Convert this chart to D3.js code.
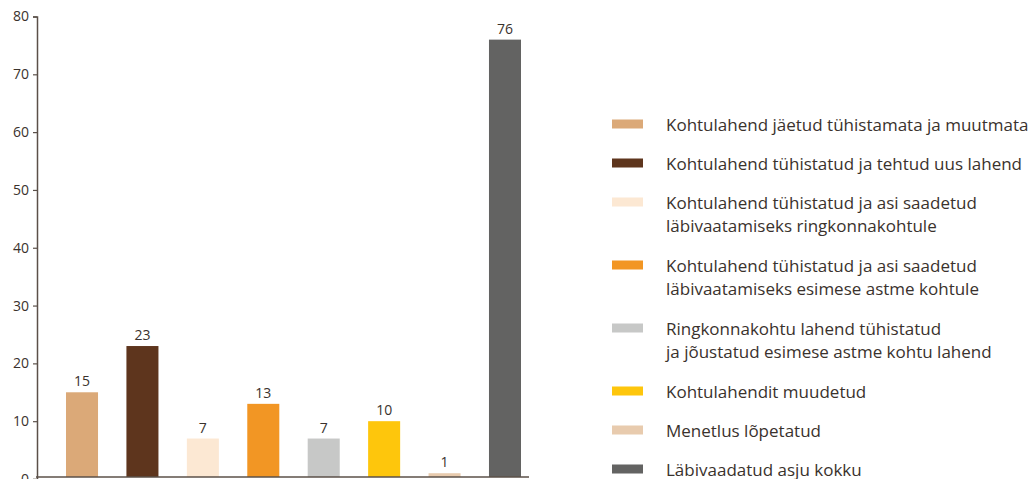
<!DOCTYPE html>
<html><head><meta charset="utf-8">
<script src="https://cdn.jsdelivr.net/npm/d3@7"></script>
<style>
html,body{margin:0;padding:0;background:#fff;}
svg{display:block;font-family:"Open Sans",sans-serif;}
</style></head>
<body>
<svg id="c" width="1031" height="479"></svg>
<script>
const categories = [
  ["Kohtulahend jäetud tühistamata ja muutmata"],
  ["Kohtulahend tühistatud ja tehtud uus lahend"],
  ["Kohtulahend tühistatud ja asi saadetud", "läbivaatamiseks ringkonnakohtule"],
  ["Kohtulahend tühistatud ja asi saadetud", "läbivaatamiseks esimese astme kohtule"],
  ["Ringkonnakohtu lahend tühistatud", "ja jõustatud esimese astme kohtu lahend"],
  ["Kohtulahendit muudetud"],
  ["Menetlus lõpetatud"],
  ["Läbivaadatud asju kokku"]
];
const values = [15, 23, 7, 13, 7, 10, 1, 76];
const colors = ["#DBA978", "#5E351D", "#FCE8D3", "#F29624", "#C7C8C7", "#FEC60C", "#E8CBAE", "#636362"];
const yTicks = [0, 10, 20, 30, 40, 50, 60, 70, 80];

const svg = d3.select("#c");
const textColor = "#3a322d";
const axisColor = "#5b5049";
const baseY = 477;

const y = d3.scaleLinear().domain([0, 80]).range([479, 16.5]);
const ids = d3.range(values.length);
const x = d3.scaleBand().domain(ids).range([37, 550]).paddingInner(0.47).paddingOuter(0.48);

// bars
svg.append("g").selectAll("rect").data(ids).join("rect")
  .attr("x", i => x(i)).attr("width", x.bandwidth())
  .attr("y", i => y(values[i])).attr("height", i => baseY - y(values[i]))
  .attr("fill", i => colors[i]);

// value labels
svg.append("g").selectAll("text").data(ids).join("text")
  .attr("x", i => x(i) + x.bandwidth() / 2)
  .attr("y", i => y(values[i]) - 6)
  .attr("text-anchor", "middle")
  .attr("font-size", 14).attr("fill", textColor)
  .text(i => values[i]);

// y axis
const yAxis = d3.axisLeft(y).tickValues(yTicks).tickSize(4).tickPadding(4);
const gy = svg.append("g").attr("transform", "translate(37,0)").call(yAxis);
gy.select(".domain").attr("stroke", axisColor).attr("stroke-width", 1.5);
gy.selectAll(".tick line").attr("stroke", axisColor).attr("stroke-width", 1.2);
gy.selectAll(".tick text").attr("font-size", 14).attr("fill", textColor)
  .attr("font-family", "'Open Sans',sans-serif");

// x baseline
svg.append("line").attr("x1", 36).attr("x2", 529)
  .attr("y1", baseY).attr("y2", baseY)
  .attr("stroke", axisColor).attr("stroke-width", 1.5);

// legend
const lg = svg.append("g");
let ly = 124;
categories.forEach((lines, i) => {
  lg.append("rect").attr("x", 612).attr("y", ly - 4.5).attr("width", 31).attr("height", 9).attr("fill", colors[i]);
  const t = lg.append("text").attr("x", 666).attr("y", ly + 7)
    .attr("font-size", 17).attr("fill", textColor);
  lines.forEach((l, j) => {
    t.append("tspan").attr("x", 666).attr("dy", j === 0 ? 0 : 23).text(l);
  });
  ly += 39 + 24 * (lines.length - 1);
});
</script>
</body></html>
